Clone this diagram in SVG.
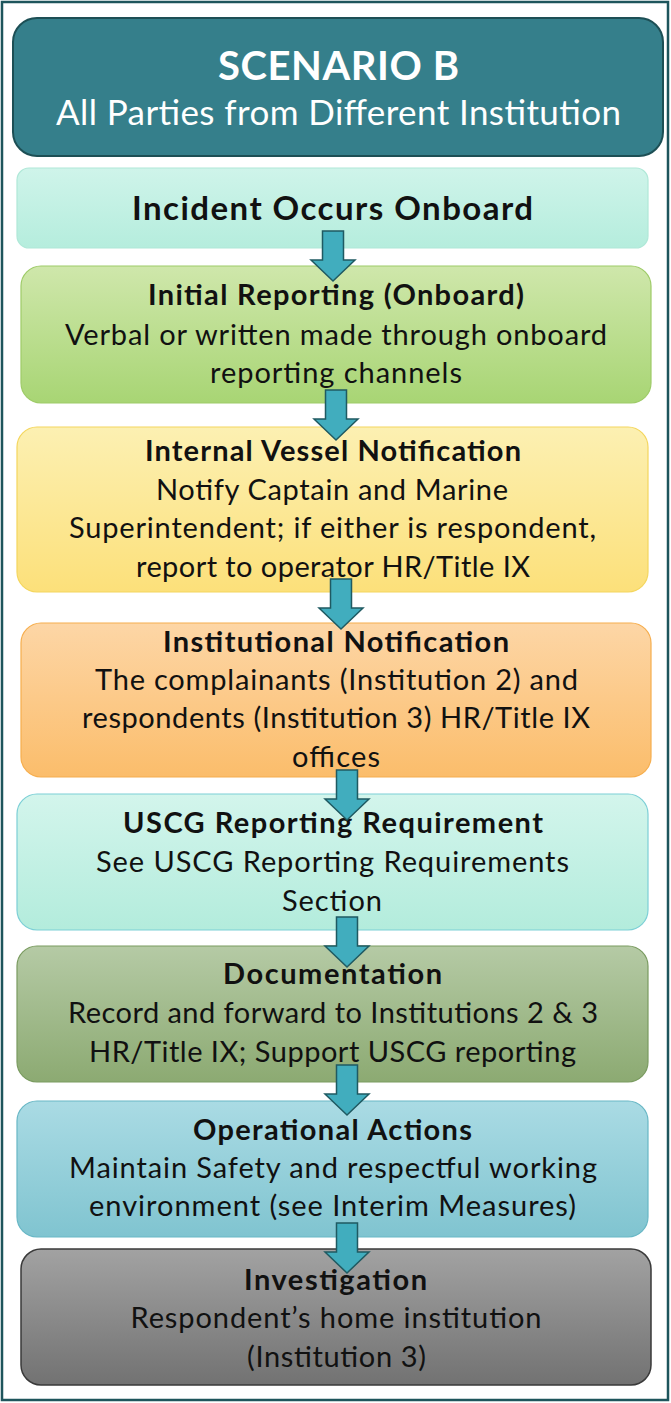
<svg xmlns="http://www.w3.org/2000/svg" width="671" height="1403" viewBox="0 0 671 1403">
<defs>
<linearGradient id="g1" x1="0" y1="0" x2="0" y2="1"><stop offset="0" stop-color="#cff4ea"/><stop offset="1" stop-color="#b5eddd"/></linearGradient>
<linearGradient id="g2" x1="0" y1="0" x2="0" y2="1"><stop offset="0" stop-color="#cfe7ab"/><stop offset="1" stop-color="#a8d574"/></linearGradient>
<linearGradient id="g3" x1="0" y1="0" x2="0" y2="1"><stop offset="0" stop-color="#fcf0b2"/><stop offset="1" stop-color="#fce07a"/></linearGradient>
<linearGradient id="g4" x1="0" y1="0" x2="0" y2="1"><stop offset="0" stop-color="#fdd6a6"/><stop offset="1" stop-color="#fbbd6b"/></linearGradient>
<linearGradient id="g5" x1="0" y1="0" x2="0" y2="1"><stop offset="0" stop-color="#d3f5ec"/><stop offset="1" stop-color="#b3ecdc"/></linearGradient>
<linearGradient id="g6" x1="0" y1="0" x2="0" y2="1"><stop offset="0" stop-color="#b5caa5"/><stop offset="1" stop-color="#8caa72"/></linearGradient>
<linearGradient id="g7" x1="0" y1="0" x2="0" y2="1"><stop offset="0" stop-color="#aadbe4"/><stop offset="1" stop-color="#80c4d0"/></linearGradient>
<linearGradient id="g8" x1="0" y1="0" x2="0" y2="1"><stop offset="0" stop-color="#a2a2a2"/><stop offset="1" stop-color="#727272"/></linearGradient>
<path id="arr" d="M-10.5,0 H10.5 V29 H22 L0,50 L-22,29 H-10.5 Z"/>
</defs>
<style>
text{font-family:Lato,"Open Sans","Liberation Sans",sans-serif;text-anchor:middle;fill:#111}
.h{font-weight:bold;font-size:29px}
.b{font-size:29px}
.arrow{fill:#41adbe;stroke:#1f5a62;stroke-width:1.5}
</style>
<rect x="2" y="2" width="666" height="1398" fill="#fff" stroke="#1e555c" stroke-width="2.5"/>
<g id="header">
<rect x="13" y="18" width="650" height="138" rx="24" fill="#357f8b" stroke="#1d4f55" stroke-width="2"/>
<text x="338.5" y="80" style="fill:#fff;font-weight:bold;font-size:40px" textLength="241" lengthAdjust="spacing">SCENARIO B</text>
<text x="338.5" y="125" style="fill:#fff;font-size:35px" textLength="565" lengthAdjust="spacing">All Parties from Different Institution</text>
</g>
<g id="n1">
<rect x="17" y="168" width="631" height="80" rx="12" fill="url(#g1)" stroke="#b0e8d8" stroke-width="1.2"/>
<text x="332.5" y="220" class="h" style="font-size:33px" textLength="401" lengthAdjust="spacing">Incident Occurs Onboard</text>
</g>
<g id="n2">
<rect x="21" y="266" width="630" height="137" rx="20" fill="url(#g2)" stroke="#9ecb68" stroke-width="1.2"/>
<text x="336" y="305" class="h" textLength="376" lengthAdjust="spacing">Initial Reporting (Onboard)</text>
<text x="336" y="345" class="b" textLength="542" lengthAdjust="spacing">Verbal or written made through onboard</text>
<text x="336" y="383" class="b" textLength="252" lengthAdjust="spacing">reporting channels</text>
</g>
<g id="n3">
<rect x="17" y="427" width="631" height="165" rx="20" fill="url(#g3)" stroke="#f4d65e" stroke-width="1.2"/>
<text x="333" y="461" class="h" textLength="376" lengthAdjust="spacing">Internal Vessel Notification</text>
<text x="332" y="500" class="b" textLength="352" lengthAdjust="spacing">Notify Captain and Marine</text>
<text x="332.5" y="538" class="b" textLength="527" lengthAdjust="spacing">Superintendent; if either is respondent,</text>
<text x="333" y="577" class="b" textLength="394" lengthAdjust="spacing">report to operator HR/Title IX</text>
</g>
<g id="n4">
<rect x="21" y="623" width="630" height="154" rx="20" fill="url(#g4)" stroke="#f6ae4e" stroke-width="1.2"/>
<text x="336" y="652" class="h" textLength="346" lengthAdjust="spacing">Institutional Notification</text>
<text x="336.5" y="690" class="b" textLength="483" lengthAdjust="spacing">The complainants (Institution 2) and</text>
<text x="336" y="728" class="b" textLength="508" lengthAdjust="spacing">respondents (Institution 3) HR/Title IX</text>
<text x="336" y="767" class="b" textLength="88" lengthAdjust="spacing">offices</text>
</g>
<g id="n5">
<rect x="17" y="794" width="631" height="136" rx="20" fill="url(#g5)" stroke="#7ccfd6" stroke-width="1.2"/>
<text x="333" y="833" class="h" textLength="420" lengthAdjust="spacing">USCG Reporting Requirement</text>
<text x="332.5" y="872" class="b" textLength="473" lengthAdjust="spacing">See USCG Reporting Requirements</text>
<text x="332" y="911" class="b" textLength="100" lengthAdjust="spacing">Section</text>
</g>
<g id="n6">
<rect x="17" y="946" width="631" height="136" rx="20" fill="url(#g6)" stroke="#7a9b60" stroke-width="1.2"/>
<text x="332.5" y="984" class="h" textLength="219" lengthAdjust="spacing">Documentation</text>
<text x="333" y="1023" class="b" textLength="530" lengthAdjust="spacing">Record and forward to Institutions 2 &amp; 3</text>
<text x="332.5" y="1062" class="b" textLength="487" lengthAdjust="spacing">HR/Title IX; Support USCG reporting</text>
</g>
<g id="n7">
<rect x="17" y="1101" width="631" height="136" rx="20" fill="url(#g7)" stroke="#68b7c5" stroke-width="1.2"/>
<text x="332.5" y="1140" class="h" textLength="279" lengthAdjust="spacing">Operational Actions</text>
<text x="333" y="1178" class="b" textLength="528" lengthAdjust="spacing">Maintain Safety and respectful working</text>
<text x="332.5" y="1216" class="b" textLength="487" lengthAdjust="spacing">environment (see Interim Measures)</text>
</g>
<g id="n8">
<rect x="21" y="1249" width="630" height="136" rx="20" fill="url(#g8)" stroke="#3a3a3a" stroke-width="1.5"/>
<text x="335.5" y="1290" class="h" textLength="183" lengthAdjust="spacing">Investigation</text>
<text x="336" y="1328" class="b" textLength="411" lengthAdjust="spacing">Respondent’s home institution</text>
<text x="336.5" y="1367" class="b" textLength="179" lengthAdjust="spacing">(Institution 3)</text>
</g>
<g id="connectors">
<use href="#arr" class="arrow" transform="translate(333,231)"/>
<use href="#arr" class="arrow" transform="translate(336,390)"/>
<use href="#arr" class="arrow" transform="translate(341,579)"/>
<use href="#arr" class="arrow" transform="translate(347,770)"/>
<use href="#arr" class="arrow" transform="translate(347,917)"/>
<use href="#arr" class="arrow" transform="translate(347,1065)"/>
<use href="#arr" class="arrow" transform="translate(347,1223)"/>
</g>
</svg>
